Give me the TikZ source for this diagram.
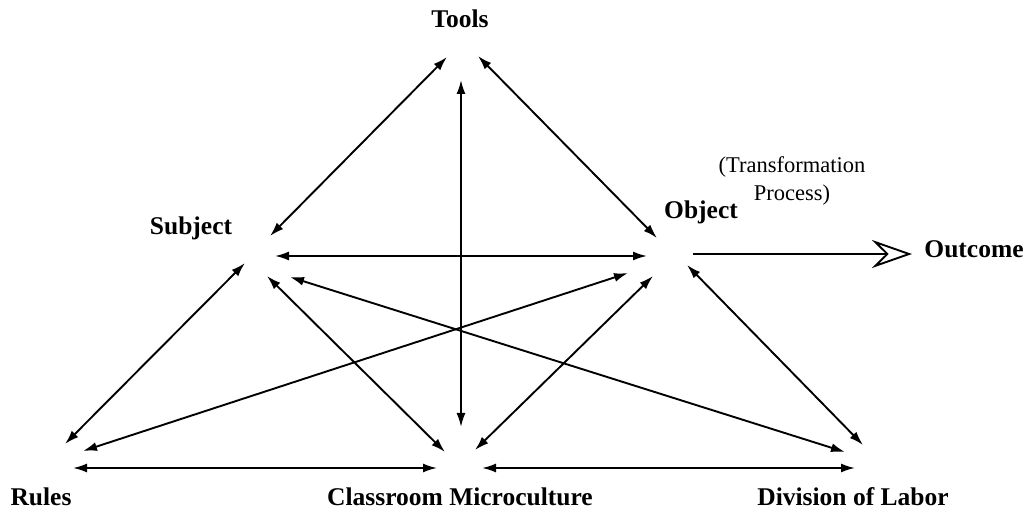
\documentclass[tikz,border=0pt]{standalone}
\usepackage{fontspec}
\setmainfont{Liberation Serif}
\usetikzlibrary{arrows.meta}
\begin{document}
\begin{tikzpicture}[x=1pt,y=-1pt,
  lbl/.style={font=\fontsize{25.5}{27}\selectfont\bfseries, inner sep=0pt},
  note/.style={font=\fontsize{22.5}{28}\selectfont, inner sep=0pt, align=center},
  link/.style={line width=1.9pt, {Latex[length=14pt,width=9pt]}-{Latex[length=14pt,width=9pt]}},
  flow/.style={line width=1.9pt, -{Stealth[open,length=40pt,width=28pt,inset=14pt,line width=1.9pt]}}]
\useasboundingbox (0,0) rectangle (1031,518);
% labels
\node[lbl] (tools) at (460,19) {Tools};
\node[lbl] (subject) at (191,228) {Subject};
\node[lbl] (object) at (701,212) {Object};
\node[lbl] (outcome) at (974,249) {Outcome};
\node[note] (trans) at (792,181) {(Transformation\\Process)};
\node[lbl] (rules) at (41,497) {Rules};
\node[lbl] (class) at (460,497) {Classroom Microculture};
\node[lbl] (div) at (853,497) {Division of Labor};
% endpoints
\coordinate (tS) at (447,57);
\coordinate (tV) at (461,80);
\coordinate (tO) at (478,56);
\coordinate (sT) at (270,236);
\coordinate (sO) at (275,256);
\coordinate (sR) at (245,263);
\coordinate (sC) at (267,276);
\coordinate (sD) at (290,277);
\coordinate (oT) at (657,238);
\coordinate (oS) at (647,256);
\coordinate (oR) at (628,273);
\coordinate (oC) at (653,276);
\coordinate (oD) at (687,265);
\coordinate (oOut) at (693,254);
\coordinate (outIn) at (912,254);
\coordinate (rS) at (65,444);
\coordinate (rO) at (83,451);
\coordinate (rC) at (73,468);
\coordinate (cV) at (461,427);
\coordinate (cS) at (445,452);
\coordinate (cO) at (475,450);
\coordinate (cR) at (437,468);
\coordinate (cD) at (482,468);
\coordinate (dS) at (845,452);
\coordinate (dO) at (863,445);
\coordinate (dC) at (855,468);
% connectors
\draw[link] (tS) -- (sT);
\draw[link] (tV) -- (cV);
\draw[link] (tO) -- (oT);
\draw[link] (sO) -- (oS);
\draw[link] (sR) -- (rS);
\draw[link] (sC) -- (cS);
\draw[link] (sD) -- (dS);
\draw[link] (oR) -- (rO);
\draw[link] (oC) -- (cO);
\draw[link] (oD) -- (dO);
\draw[link] (rC) -- (cR);
\draw[link] (cD) -- (dC);
\draw[flow] (oOut) -- (outIn);
\end{tikzpicture}
\end{document}
